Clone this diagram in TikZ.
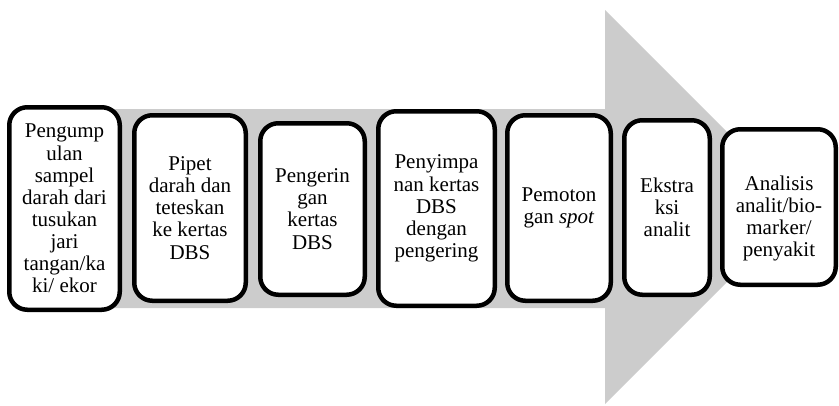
\documentclass[tikz,border=0pt]{standalone}
\usepackage{fontspec}
\setmainfont{Liberation Serif}
\usetikzlibrary{positioning}

\begin{document}
\begin{tikzpicture}[
x=1pt, y=-1pt,
stepbox/.style={rectangle, draw, line width=4.5pt, fill=white, rounded corners=18pt, align=center, inner sep=0pt, font=\fontsize{21}{22.1}\selectfont},
bigarrow/.style={fill=black!20, draw=none}
]
\useasboundingbox (0,0) rectangle (839,405);

% Grey arrow behind the steps
\fill[bigarrow] (15,109) -- (605,109) -- (605,10) -- (802,207) -- (605,404) -- (605,308) -- (15,308) -- cycle;

% Steps
\node[stepbox, minimum width=110.5pt, minimum height=202.5pt] (collect) at (64.5,208.5) {Pengump\\ulan\\sampel\\darah dari\\tusukan\\jari\\tangan/ka\\ki/ ekor};
\node[stepbox, minimum width=111.5pt, minimum height=185.5pt] (pipette) at (190,208) {Pipet\\darah dan\\teteskan\\ke kertas\\DBS};
\node[stepbox, minimum width=104.5pt, minimum height=171.5pt] (drying) at (312.5,209) {Pengerin\\gan\\kertas\\DBS};
\node[stepbox, minimum width=116.5pt, minimum height=194.5pt] (storage) at (436.5,208.5) {Penyimpa\\nan kertas\\DBS\\dengan\\pengering};
\node[stepbox, minimum width=103.5pt, minimum height=185.5pt] (cutting) at (559,208) {Pemoton\\gan \textit{spot}};
\node[stepbox, minimum width=85.5pt, minimum height=174.5pt] (extraction) at (667,207.5) {Ekstra\\ksi\\analit};
\node[stepbox, minimum width=113.5pt, minimum height=155.5pt] (analysis) at (779,207) {\rule{0pt}{16pt}\\Analisis\\analit/bio-\\marker/\\penyakit};

\end{tikzpicture}
\end{document}
